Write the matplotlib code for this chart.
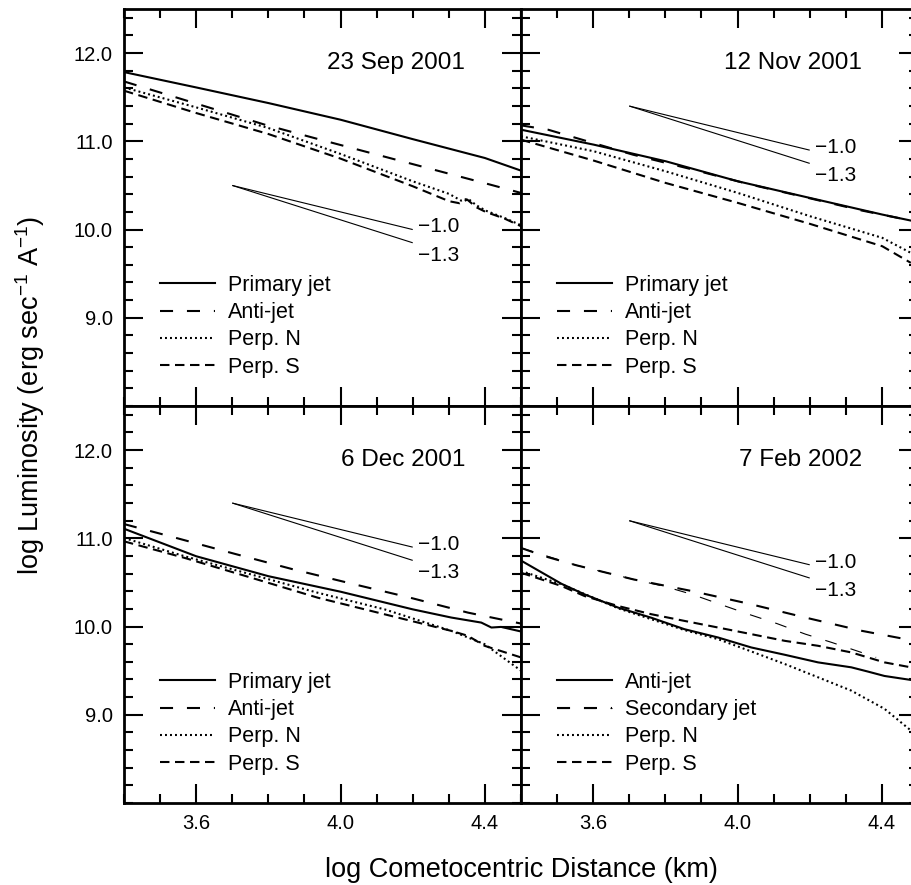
import matplotlib
matplotlib.use("Agg")
import matplotlib.pyplot as plt
from matplotlib.ticker import MultipleLocator, FixedLocator, FormatStrFormatter
from matplotlib.legend_handler import HandlerTuple

plt.rcParams['font.family'] = ['Liberation Sans', 'DejaVu Sans']
plt.rcParams['mathtext.fontset'] = 'custom'
plt.rcParams['mathtext.rm'] = 'Liberation Sans'
plt.rcParams['mathtext.it'] = 'Liberation Sans:italic'
plt.rcParams['lines.scale_dashes'] = False

# ---------------- data ----------------
panel_dates = ["23 Sep 2001", "12 Nov 2001", "6 Dec 2001", "7 Feb 2002"]

# 23 Sep 2001
sep_primary_x = [3.40, 3.60, 3.80, 4.00, 4.20, 4.40, 4.50]
sep_primary_y = [11.785, 11.611, 11.434, 11.245, 11.025, 10.811, 10.668]
sep_anti_x = [3.40, 3.55, 3.79, 3.944, 4.101, 4.258, 4.415, 4.50]
sep_anti_y = [11.679, 11.491, 11.189, 11.019, 10.849, 10.679, 10.509, 10.415]
sep_perpn_x = [3.40, 3.60, 3.80, 4.00, 4.20, 4.301, 4.334, 4.353, 4.376, 4.402, 4.454, 4.50]
sep_perpn_y = [11.611, 11.385, 11.151, 10.857, 10.547, 10.404, 10.328, 10.351, 10.276, 10.215, 10.132, 10.049]
sep_perps_x = [3.40, 3.60, 3.80, 4.00, 4.20, 4.301, 4.330, 4.351, 4.376, 4.402, 4.454, 4.50]
sep_perps_y = [11.574, 11.321, 11.083, 10.804, 10.491, 10.321, 10.298, 10.340, 10.253, 10.200, 10.125, 10.038]

# 12 Nov 2001
nov_primary_x = [3.40, 3.602, 3.801, 4.001, 4.201, 4.401, 4.48]
nov_primary_y = [11.132, 10.962, 10.774, 10.547, 10.358, 10.170, 10.102]
nov_anti_x = [3.40, 3.475, 3.553, 3.710, 3.869, 4.029, 4.188, 4.345, 4.48]
nov_anti_y = [11.181, 11.132, 11.038, 10.849, 10.687, 10.517, 10.366, 10.215, 10.102]
nov_perpn_x = [3.40, 3.602, 3.801, 4.001, 4.201, 4.401, 4.48]
nov_perpn_y = [11.057, 10.887, 10.660, 10.415, 10.151, 9.906, 9.736]
nov_perps_x = [3.40, 3.602, 3.801, 4.001, 4.201, 4.401, 4.48]
nov_perps_y = [11.019, 10.781, 10.528, 10.302, 10.064, 9.811, 9.623]

# 6 Dec 2001
dec_primary_x = [3.40, 3.60, 3.80, 4.00, 4.20, 4.307, 4.39, 4.418, 4.445, 4.50]
dec_primary_y = [11.109, 10.797, 10.571, 10.395, 10.195, 10.102, 10.045, 9.989, 9.996, 9.944]
dec_anti_x = [3.40, 3.545, 3.708, 3.870, 4.032, 4.193, 4.353, 4.50]
dec_anti_y = [11.162, 11.004, 10.823, 10.647, 10.485, 10.327, 10.158, 10.034]
dec_perpn_x = [3.40, 3.568, 3.753, 3.937, 4.122, 4.307, 4.399, 4.50]
dec_perpn_y = [11.004, 10.797, 10.590, 10.383, 10.195, 9.951, 9.801, 9.500]
dec_perps_x = [3.40, 3.568, 3.753, 3.937, 4.122, 4.307, 4.353, 4.399, 4.50]
dec_perps_y = [10.966, 10.778, 10.553, 10.327, 10.139, 9.951, 9.895, 9.782, 9.650]

# 7 Feb 2002
feb_anti_x = [3.40, 3.512, 3.576, 3.669, 3.761, 3.853, 3.946, 4.038, 4.131, 4.223, 4.315, 4.361, 4.407, 4.48]
feb_anti_y = [10.748, 10.485, 10.365, 10.215, 10.100, 9.970, 9.876, 9.763, 9.680, 9.594, 9.538, 9.490, 9.440, 9.395]
feb_second_x = [3.40, 3.466, 3.553, 3.712, 3.874, 4.031, 4.188, 4.345, 4.48]
feb_second_y = [10.891, 10.797, 10.695, 10.534, 10.402, 10.259, 10.102, 9.951, 9.846]
feb_second_b_x = [3.40, 3.553, 3.712, 3.798, 3.874, 3.952, 4.031, 4.109, 4.188, 4.261, 4.335, 4.384]
feb_second_b_y = [10.891, 10.695, 10.534, 10.455, 10.365, 10.252, 10.139, 10.034, 9.914, 9.820, 9.718, 9.650]
feb_perpn_x = [3.40, 3.512, 3.669, 3.761, 3.853, 3.946, 4.038, 4.131, 4.223, 4.315, 4.407, 4.48]
feb_perpn_y = [10.630, 10.480, 10.207, 10.083, 9.960, 9.857, 9.718, 9.575, 9.425, 9.274, 9.068, 8.823]
feb_perps_x = [3.40, 3.512, 3.576, 3.669, 3.761, 3.853, 3.946, 4.038, 4.131, 4.223, 4.315, 4.407, 4.48]
feb_perps_y = [10.610, 10.460, 10.346, 10.233, 10.140, 10.064, 9.989, 9.914, 9.838, 9.782, 9.707, 9.594, 9.538]

# power-law reference slopes
slope_x = [3.7, 4.2]
slope_start_y = [10.5, 11.4, 11.4, 11.2]
slopes = [-1.0, -1.3]
slope_labels = ["\u22121.0", "\u22121.3"]

x_ticks = [3.6, 4.0, 4.4]
y_ticks = [9.0, 10.0, 11.0, 12.0]

x_label = "log Cometocentric Distance (km)"
y_label = r"log Luminosity (erg sec$^{\mathrm{-1}}$ A$^{\mathrm{-1}}$)"

# ---------------- styles ----------------
LW = 1.5
styles = {
    "solid": dict(color="black", lw=LW, linestyle="-"),
    "long": dict(color="black", lw=LW, dashes=(9.4, 10.0)),
    "dot": dict(color="black", lw=LW, dashes=(1.4, 2.2)),
    "short": dict(color="black", lw=LW, dashes=(6.8, 4.0)),
    "thinlong": dict(color="black", lw=0.8, dashes=(8.6, 10.5)),
}

panels = [
    [("Primary jet", sep_primary_x, sep_primary_y, "solid"),
     ("Anti-jet", sep_anti_x, sep_anti_y, "long"),
     ("Perp. N", sep_perpn_x, sep_perpn_y, "dot"),
     ("Perp. S", sep_perps_x, sep_perps_y, "short")],
    [("Primary jet", nov_primary_x, nov_primary_y, "solid"),
     ("Anti-jet", nov_anti_x, nov_anti_y, "long"),
     ("Perp. N", nov_perpn_x, nov_perpn_y, "dot"),
     ("Perp. S", nov_perps_x, nov_perps_y, "short")],
    [("Primary jet", dec_primary_x, dec_primary_y, "solid"),
     ("Anti-jet", dec_anti_x, dec_anti_y, "long"),
     ("Perp. N", dec_perpn_x, dec_perpn_y, "dot"),
     ("Perp. S", dec_perps_x, dec_perps_y, "short")],
    [("Anti-jet", feb_anti_x, feb_anti_y, "solid"),
     ("Secondary jet", feb_second_x, feb_second_y, "long"),
     (None, feb_second_b_x, feb_second_b_y, "thinlong"),
     ("Perp. N", feb_perpn_x, feb_perpn_y, "dot"),
     ("Perp. S", feb_perps_x, feb_perps_y, "short")],
]

# ---------------- figure ----------------
W, H = 911, 885
fig = plt.figure(figsize=(W / 100, H / 100), dpi=100)

ax_w, ax_h = 397, 397
lefts = [124, 521]
tops = [9, 406]
positions = [(lefts[0], tops[0]), (lefts[1], tops[0]), (lefts[0], tops[1]), (lefts[1], tops[1])]

for i, (lx, ty) in enumerate(positions):
    ax = fig.add_axes([lx / W, (H - ty - ax_h) / H, ax_w / W, ax_h / H])
    ax.set_xlim(3.4, 4.5)
    ax.set_ylim(8.0, 12.5)

    handles, labels = [], []
    for name, xs, ys, st in panels[i]:
        ln, = ax.plot(xs, ys, **styles[st])
        if name is None:
            handles[-1] = (handles[-1], ln)
        else:
            handles.append(ln)
            labels.append(name)

    # reference power-law slopes
    y0 = slope_start_y[i]
    for s in slopes:
        ys = [y0 + s * (x - slope_x[0]) for x in slope_x]
        ax.plot(slope_x, ys, color="black", lw=0.8, solid_capstyle="butt")
    y_end1 = y0 + slopes[0] * (slope_x[1] - slope_x[0])
    ax.text(4.215, y_end1 + 0.03, slope_labels[0], fontsize=15, ha="left", va="center")
    ax.text(4.215, y_end1 + 0.03 - 0.32, slope_labels[1], fontsize=15, ha="left", va="center")

    ax.text(4.345, 11.89, panel_dates[i], fontsize=17.5, ha="right", va="center")

    ax.legend(handles, labels, loc="upper left", bbox_to_anchor=(0.09, 0.330),
              frameon=False, borderpad=0, borderaxespad=0, handlelength=2.56,
              handletextpad=0.59, labelspacing=0.29, fontsize=15.5,
              handler_map={tuple: HandlerTuple(ndivide=1)})

    ax.xaxis.set_major_locator(FixedLocator(x_ticks))
    ax.xaxis.set_minor_locator(MultipleLocator(0.1))
    ax.yaxis.set_major_locator(FixedLocator(y_ticks))
    ax.yaxis.set_minor_locator(MultipleLocator(0.2))
    ax.xaxis.set_major_formatter(FormatStrFormatter("%.1f"))
    ax.yaxis.set_major_formatter(FormatStrFormatter("%.1f"))
    ax.tick_params(which="both", direction="in", top=True, right=True, width=1.5)
    ax.tick_params(which="major", length=13.5, labelsize=14.5, pad=8)
    ax.tick_params(which="minor", length=6.8)
    ax.tick_params(labelleft=(i % 2 == 0), labelbottom=(i >= 2))
    for sp in ax.spines.values():
        sp.set_linewidth(2.0)

fig.text(521 / W, 15 / H, x_label, fontsize=19.5, ha="center", va="center")
fig.text(30 / W, (H - 395) / H, y_label, fontsize=19.5, ha="center", va="center", rotation=90)

fig.savefig("out.png", dpi=100)
